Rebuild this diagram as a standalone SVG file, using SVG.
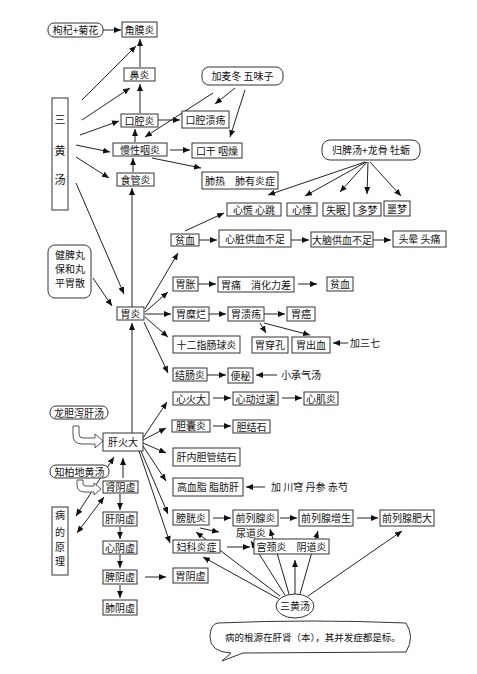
<svg xmlns="http://www.w3.org/2000/svg" width="477" height="674" viewBox="0 0 477 674">
<style>
.b{fill:#fff;stroke:#333;stroke-width:1}
.t{font-family:"Noto Sans CJK SC","Liberation Sans",sans-serif;font-size:10px;fill:#111;text-anchor:middle}
.tl{font-family:"Noto Sans CJK SC","Liberation Sans",sans-serif;font-size:10px;fill:#111}
.c line{stroke:#222;stroke-width:1;marker-end:url(#ah)}
.h{fill:#fff;stroke:#555;stroke-width:1}
</style>
<defs>
<marker id="ah" markerUnits="userSpaceOnUse" markerWidth="8" markerHeight="6" refX="7" refY="3" orient="auto"><path d="M0,0 L7,3 L0,6 z" fill="#111"/></marker>
<marker id="as" markerUnits="userSpaceOnUse" markerWidth="8" markerHeight="6" refX="0" refY="3" orient="auto"><path d="M7,0 L0,3 L7,6 z" fill="#111"/></marker>
</defs>
<rect width="477" height="674" fill="#fff"/>

<g class="c" id="connectors">
<line x1="103" y1="30" x2="121" y2="30"/>
<line x1="140" y1="67" x2="140" y2="39"/>
<line x1="82" y1="100" x2="136" y2="46"/>
<line x1="82" y1="120" x2="130" y2="88"/>
<line x1="80" y1="135" x2="119" y2="121"/>
<line x1="140" y1="113" x2="140" y2="84"/>
<line x1="158" y1="120" x2="180" y2="120"/>
<line x1="135" y1="142" x2="135" y2="129"/>
<line x1="213" y1="93" x2="145" y2="137"/>
<line x1="235" y1="88" x2="215" y2="104"/>
<line x1="245" y1="90" x2="230" y2="137"/>
<line x1="76" y1="145" x2="110" y2="152"/>
<line x1="76" y1="157" x2="109" y2="178"/>
<line x1="133" y1="172" x2="133" y2="158"/>
<line x1="170" y1="150" x2="190" y2="150"/>
<line x1="152" y1="158" x2="201" y2="168"/>
<line x1="365" y1="162" x2="268" y2="195"/>
<line x1="366" y1="162" x2="305" y2="196"/>
<line x1="367" y1="162" x2="340" y2="192"/>
<line x1="368" y1="162" x2="367" y2="194"/>
<line x1="370" y1="162" x2="401" y2="196"/>
<line x1="185" y1="231" x2="224" y2="213"/>
<line x1="199" y1="240" x2="217" y2="240"/>
<line x1="291" y1="240" x2="309" y2="240"/>
<line x1="373" y1="240" x2="391" y2="240"/>
<line x1="76" y1="183" x2="124" y2="294"/>
<line x1="93" y1="278" x2="112" y2="306"/>
<line x1="132" y1="307" x2="132" y2="188"/>
<line x1="145" y1="309" x2="178" y2="253"/>
<line x1="145" y1="312" x2="168" y2="292"/>
<line x1="145" y1="314" x2="171" y2="314"/>
<line x1="145" y1="317" x2="168" y2="337"/>
<line x1="144" y1="322" x2="168" y2="373"/>
<line x1="198" y1="284" x2="216" y2="284"/>
<line x1="298" y1="284" x2="317" y2="284"/>
<line x1="209" y1="314" x2="226" y2="314"/>
<line x1="264" y1="314" x2="285" y2="314"/>
<line x1="260" y1="323" x2="266" y2="333"/>
<line x1="264" y1="323" x2="310" y2="335"/>
<line x1="348" y1="343" x2="333" y2="343"/>
<line x1="207" y1="375" x2="226" y2="375"/>
<line x1="277" y1="375" x2="256" y2="375"/>
<line x1="132" y1="433" x2="132" y2="323"/>
<line x1="143" y1="438" x2="167" y2="402"/>
<line x1="143" y1="440" x2="166" y2="428"/>
<line x1="143" y1="443" x2="166" y2="453"/>
<line x1="143" y1="446" x2="166" y2="481"/>
<line x1="141" y1="451" x2="168" y2="514"/>
<line x1="139" y1="451" x2="170" y2="543"/>
<line x1="213" y1="398" x2="231" y2="398"/>
<line x1="282" y1="398" x2="302" y2="398"/>
<line x1="213" y1="426" x2="231" y2="426"/>
<line x1="265" y1="487" x2="246" y2="487"/>
<line x1="213" y1="518" x2="231" y2="518"/>
<line x1="280" y1="518" x2="297" y2="518"/>
<line x1="357" y1="518" x2="378" y2="518"/>
<line x1="200" y1="528" x2="219" y2="532"/>
<line x1="227" y1="547" x2="250" y2="547"/>
<line x1="280" y1="596" x2="196" y2="532"/>
<line x1="279" y1="599" x2="203" y2="557"/>
<line x1="285" y1="595" x2="251" y2="541"/>
<line x1="289" y1="594" x2="270" y2="529"/>
<line x1="295" y1="594" x2="295" y2="560"/>
<line x1="300" y1="594" x2="318" y2="531"/>
<line x1="308" y1="596" x2="402" y2="531"/>
<line x1="123" y1="478" x2="123" y2="458"/>
<line x1="120" y1="494" x2="120" y2="510"/>
<line x1="120" y1="527" x2="120" y2="539"/>
<line x1="120" y1="555" x2="120" y2="568"/>
<line x1="120" y1="585" x2="120" y2="598"/>
<line x1="145" y1="577" x2="166" y2="577"/>
<line x1="76" y1="516" x2="114" y2="457" marker-start="url(#as)"/>
<line x1="77" y1="533" x2="104" y2="497" marker-start="url(#as)"/>
<path class="h" d="M73,426 L79,426 L79,434 Q79,438 83,438 L95,438 L95,434 L103,441 L95,448 L95,444 L82,444 Q73,444 73,435 Z"/>
<path class="h" d="M77,480 L83,480 L83,484 Q83,486 86,486 L94,486 L94,483 L101,489 L94,495 L94,492 L85,492 Q77,492 77,485 Z"/>
</g>

<g id="gouqi"><rect class="b" x="48" y="23" width="55" height="14" rx="6"/><text class="t" x="75.5" y="34">枸杞+菊花</text></g>
<g id="jiaomoyan"><rect class="b" x="122" y="22" width="35" height="15"/><text class="t" x="139.5" y="33.5">角膜炎</text></g>
<g id="biyan"><rect class="b" x="124" y="68" width="31" height="13"/><text class="t" x="139.5" y="78.5">鼻炎</text></g>
<g id="sanhuang-box"><rect class="b" x="52" y="98" width="16" height="112"/><text class="t" x="60" y="124" style="font-size:11px">三</text><text class="t" x="60" y="155" style="font-size:11px">黄</text><text class="t" x="60" y="184" style="font-size:11px">汤</text></g>
<g id="maidong"><rect class="b" x="202" y="67" width="81" height="18" rx="7"/><text class="t" x="242.5" y="80">加麦冬 五味子</text></g>
<g id="kouqiangyan"><rect class="b" x="121" y="114" width="37" height="13"/><text class="t" x="139.5" y="124.5">口腔炎</text></g>
<g id="kouqiangkuiyang"><rect class="b" x="182" y="111" width="47" height="17"/><text class="t" x="205.5" y="123.5">口腔溃疡</text></g>
<g id="manxingyanyan"><rect class="b" x="113" y="143" width="54" height="13"/><text class="t" x="140" y="153.5">慢性咽炎</text></g>
<g id="kougan"><rect class="b" x="192" y="143" width="50" height="15"/><text class="t" x="217" y="154.5">口干 咽燥</text></g>
<g id="shiguanyan"><rect class="b" x="117" y="173" width="37" height="13"/><text class="t" x="135.5" y="183.5">食管炎</text></g>
<g id="feire"><rect class="b" x="202" y="172" width="76" height="17"/><text class="t" x="240" y="184.5">肺热　肺有炎症</text></g>
<g id="guipi"><rect class="b" x="322" y="140" width="98" height="20" rx="8"/><text class="t" x="371" y="154">归脾汤+龙骨 牡蛎</text></g>
<g id="xinhuang"><rect class="b" x="227" y="203" width="54" height="13"/><text class="t" x="254" y="213.5">心慌 心跳</text></g>
<g id="xinji"><rect class="b" x="287" y="203" width="30" height="13"/><text class="t" x="302" y="213.5">心悸</text></g>
<g id="shimian"><rect class="b" x="323" y="203" width="26" height="13"/><text class="t" x="336" y="213.5">失眠</text></g>
<g id="duomeng"><rect class="b" x="354" y="203" width="27" height="13"/><text class="t" x="367.5" y="213.5">多梦</text></g>
<g id="emeng"><rect class="b" x="384" y="201" width="26" height="15"/><text class="t" x="397" y="212.5">噩梦</text></g>
<g id="pinxue1"><rect class="b" x="171" y="234" width="28" height="12"/><text class="t" x="185" y="244">贫血</text></g>
<g id="xinzang"><rect class="b" x="219" y="230" width="72" height="17"/><text class="t" x="255" y="242.5">心脏供血不足</text></g>
<g id="danao"><rect class="b" x="311" y="232" width="62" height="15"/><text class="t" x="342" y="243.5">大脑供血不足</text></g>
<g id="touyun"><rect class="b" x="393" y="231" width="53" height="16"/><text class="t" x="419.5" y="243">头晕 头痛</text></g>
<g id="jianpi"><rect class="b" x="48" y="245" width="43" height="53" rx="7"/><text class="tl" x="55" y="259">健脾丸</text><text class="tl" x="55" y="273">保和丸</text><text class="tl" x="55" y="287">平胃散</text></g>
<g id="weiyan"><rect class="b" x="117" y="307" width="27" height="13"/><text class="t" x="130.5" y="317.5">胃炎</text></g>
<g id="weizhang"><rect class="b" x="173" y="277" width="25" height="14"/><text class="t" x="185.5" y="288">胃胀</text></g>
<g id="weitong"><rect class="b" x="218" y="277" width="76" height="15"/><text class="t" x="256" y="288.5">胃痛　消化力差</text></g>
<g id="pinxue2"><rect class="b" x="327" y="277" width="26" height="14"/><text class="t" x="340" y="288">贫血</text></g>
<g id="weimilan"><rect class="b" x="173" y="307" width="36" height="14"/><text class="t" x="191" y="318">胃糜烂</text></g>
<g id="weikuiyang"><rect class="b" x="228" y="307" width="36" height="14"/><text class="t" x="246" y="318">胃溃疡</text></g>
<g id="weiai"><rect class="b" x="287" y="307" width="28" height="14"/><text class="t" x="301" y="318">胃癌</text></g>
<g id="shierzhichang"><rect class="b" x="173" y="336" width="67" height="17"/><text class="t" x="206.5" y="348.5">十二指肠球炎</text></g>
<g id="weichuankong"><rect class="b" x="252" y="337" width="36" height="16"/><text class="t" x="270" y="349">胃穿孔</text></g>
<g id="weichuxue"><rect class="b" x="292" y="337" width="38" height="16"/><text class="t" x="311" y="349">胃出血</text></g>
<g id="sanqi"><text class="tl" x="350" y="347">加三七</text></g>
<g id="jiechangyan"><rect class="b" x="173" y="368" width="34" height="13"/><text class="t" x="190" y="378.5">结肠炎</text></g>
<g id="bianmi"><rect class="b" x="228" y="368" width="25" height="15"/><text class="t" x="240.5" y="379.5">便秘</text></g>
<g id="xiaocheng"><text class="tl" x="281" y="379">小承气汤</text></g>
<g id="xinhuo"><rect class="b" x="173" y="392" width="36" height="13"/><text class="t" x="191" y="402.5">心火大</text></g>
<g id="xindong"><rect class="b" x="233" y="392" width="45" height="13"/><text class="t" x="255.5" y="402.5">心动过速</text></g>
<g id="xinjiyan"><rect class="b" x="304" y="392" width="34" height="13"/><text class="t" x="321" y="402.5">心肌炎</text></g>
<g id="dannang"><rect class="b" x="172" y="420" width="38" height="12"/><text class="t" x="191" y="430">胆囊炎</text></g>
<g id="danjieshi"><rect class="b" x="233" y="420" width="37" height="13"/><text class="t" x="251.5" y="430.5">胆结石</text></g>
<g id="gannei"><rect class="b" x="173" y="448" width="67" height="18"/><text class="t" x="206.5" y="461">肝内胆管结石</text></g>
<g id="gaoxuezhi"><rect class="b" x="173" y="478" width="70" height="18"/><text class="t" x="208" y="491">高血脂 脂肪肝</text></g>
<g id="chuanxiong"><text class="tl" x="271" y="491">加 川穹 丹参 赤芍</text></g>
<g id="pangguang"><rect class="b" x="173" y="510" width="36" height="15"/><text class="t" x="191" y="521.5">膀胱炎</text></g>
<g id="qianlie1"><rect class="b" x="233" y="510" width="45" height="16"/><text class="t" x="255.5" y="522">前列腺炎</text></g>
<g id="zengsheng"><rect class="b" x="299" y="510" width="54" height="16"/><text class="t" x="326" y="522">前列腺增生</text></g>
<g id="feida"><rect class="b" x="380" y="510" width="54" height="16"/><text class="t" x="407" y="522">前列腺肥大</text></g>
<g id="niaodao"><text class="tl" x="236" y="537">尿道炎</text></g>
<g id="fuke"><rect class="b" x="173" y="540" width="47" height="13"/><text class="t" x="196.5" y="550.5">妇科炎症</text></g>
<g id="gongjing"><rect class="b" x="254" y="539" width="75" height="15"/><text class="t" x="291.5" y="550.5">宫颈炎　阴道炎</text></g>
<g id="sanhuang-ellipse"><ellipse class="b" cx="295" cy="606" rx="19" ry="12"/><text class="t" x="295" y="610">三黄汤</text></g>
<g id="callout"><path class="b" d="M218,623 Q311,619 406,623 Q415,637 406,652 L243,653 L222,661 L231,653 Q210,652 210,637 Q210,624 218,623 Z"/><text class="tl" x="225" y="641" style="font-size:9.5px">病的根源在肝肾（本），其并发症都是标。</text></g>
<g id="longdan"><rect class="b" x="50" y="406" width="58" height="13" rx="6"/><text class="t" x="79" y="416.5">龙胆泻肝汤</text></g>
<g id="ganhuo"><rect class="b" x="103" y="433" width="40" height="18"/><text class="t" x="123" y="446">肝火大</text></g>
<g id="zhibai"><rect class="b" x="50" y="465" width="59" height="13" rx="6"/><text class="t" x="79.5" y="475.5">知柏地黄汤</text></g>
<g id="shenyin"><rect class="b" x="103" y="481" width="35" height="12"/><text class="t" x="120.5" y="491">肾阴虚</text></g>
<g id="ganyin"><rect class="b" x="103" y="512" width="34" height="14"/><text class="t" x="120" y="523">肝阴虚</text></g>
<g id="xinyin"><rect class="b" x="103" y="541" width="34" height="13"/><text class="t" x="120" y="551.5">心阴虚</text></g>
<g id="piyin"><rect class="b" x="103" y="570" width="34" height="14"/><text class="t" x="120" y="581">脾阴虚</text></g>
<g id="feiyin"><rect class="b" x="103" y="600" width="34" height="15"/><text class="t" x="120" y="611.5">肺阴虚</text></g>
<g id="weiyin"><rect class="b" x="173" y="568" width="35" height="15"/><text class="t" x="190.5" y="579.5">胃阴虚</text></g>
<g id="bingyuanli"><rect class="b" x="52" y="507" width="16" height="68"/><text class="t" x="60" y="519">病</text><text class="t" x="60" y="536">的</text><text class="t" x="60" y="551">原</text><text class="t" x="60" y="565">理</text></g>
</svg>
